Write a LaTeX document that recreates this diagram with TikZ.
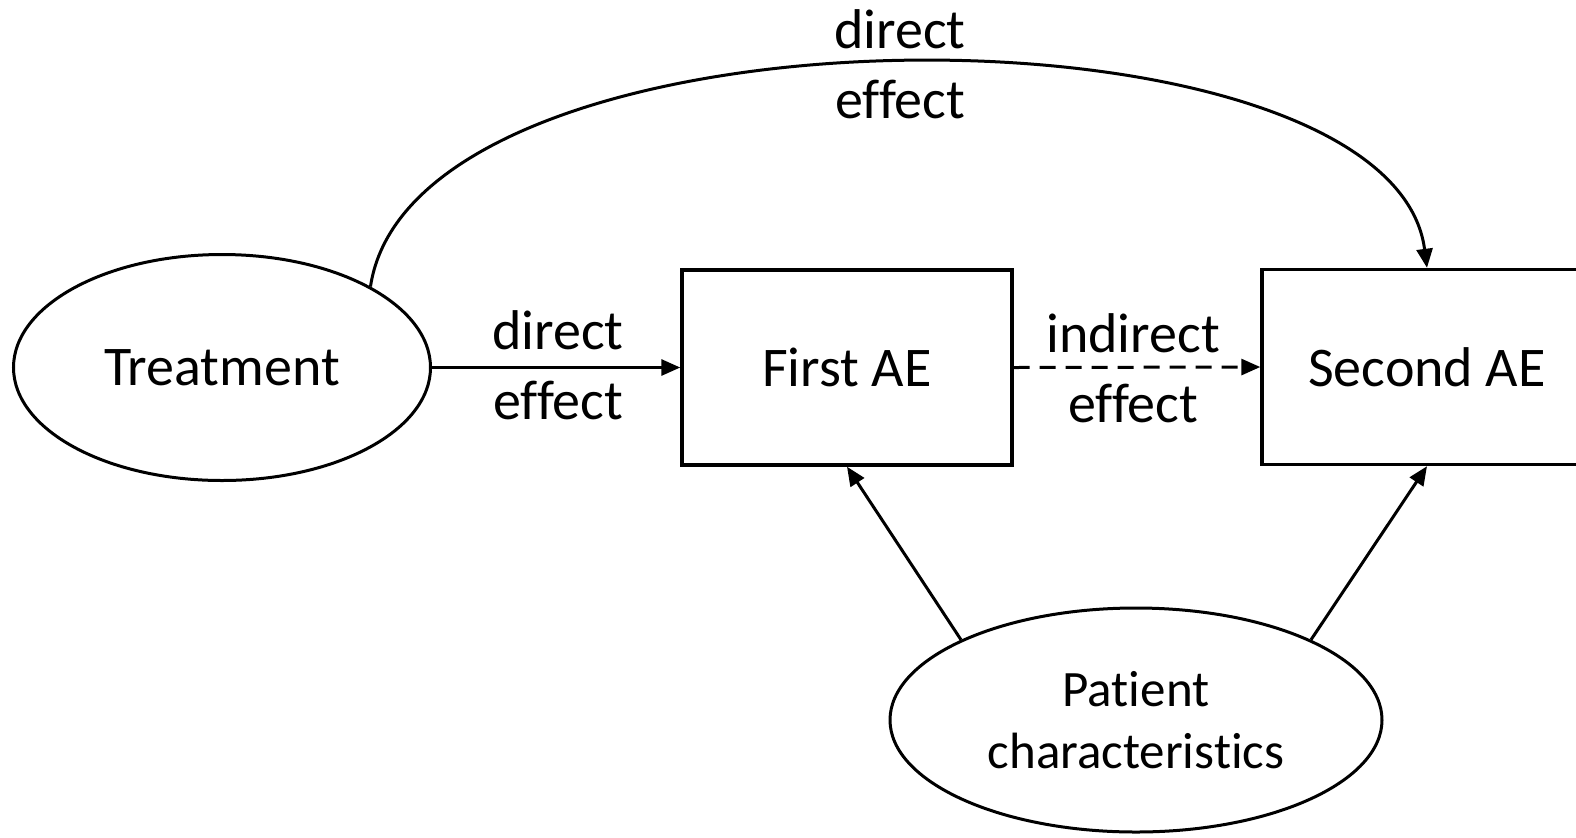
\documentclass[tikz,border=0pt]{standalone}
\usepackage{fontspec}
\setmainfont{Carlito}[Ligatures={NoCommon}]
\usetikzlibrary{shapes.geometric,arrows.meta}
\begin{document}
\begin{tikzpicture}[x=0.5pt,y=-0.5pt,
  every node/.style={font=\fontsize{28}{35}\selectfont},
  oval/.style={ellipse,draw,line width=1.5pt,inner sep=0pt},
  aebox/.style={rectangle,draw,line width=1.7pt,inner sep=0pt,minimum width=165pt,minimum height=97.5pt},
  lbl/.style={align=center,inner sep=0pt},
  arr/.style={line width=1.5pt,-{Triangle[length=9.5pt,width=8pt]}}]
\useasboundingbox (0,0) rectangle (1576,837);
\clip (0,0) rectangle (1576,837);
\node[oval,minimum width=208.5pt,minimum height=113pt] (treat) at (222,367.5) {Treatment};
\node[aebox] (first) at (847,367.5) {First AE};
\node[aebox] (second) at (1427,367) {Second AE};
\node[oval,minimum width=246pt,minimum height=112pt,align=center,font=\fontsize{25.5}{31}\selectfont] (patient) at (1136,720) {Patient\\characteristics};
\draw[arr] (treat.east) -- (first.west);
\draw[arr,dash pattern=on 8pt off 5pt] (first.east) -- (second.west);
\draw[arr] (treat.north east) .. controls (415,-9) and (1391,-9) .. (second.north);
\draw[arr] (patient.north west) -- (first.south);
\draw[arr] (patient.north east) -- (second.south);
\node[lbl] (l1) at (900,64) {direct\\effect};
\node[lbl] (l2) at (558,365) {direct\\effect};
\node[lbl] (l3) at (1133,368) {indirect\\effect};
\end{tikzpicture}
\end{document}
